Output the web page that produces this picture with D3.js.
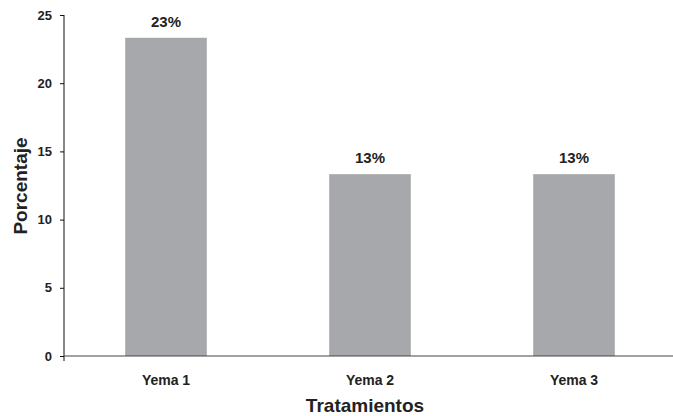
<!DOCTYPE html>
<html>
<head>
<meta charset="utf-8">
<script src="https://cdn.jsdelivr.net/npm/d3@7"></script>
<style>
  body { margin: 0; background: #fff; }
  text { font-family: "Liberation Sans", Arial, sans-serif; font-weight: bold; fill: #222; }
</style>
</head>
<body>
<svg id="chart"></svg>
<script>
const categories = ['Yema 1', 'Yema 2', 'Yema 3'];
const values = [23.33, 13.33, 13.33];
const barLabels = ['23%', '13%', '13%'];
const yTicks = [0, 5, 10, 15, 20, 25];

const width = 673;
const height = 416;

const svg = d3.select('#chart')
  .attr('width', width)
  .attr('height', height);

const x = d3.scaleBand().domain(categories).range([64, 676]).paddingInner(0.6).paddingOuter(0.3);
const y = d3.scaleLinear().domain([0, 25]).range([356, 15]);

// bars
svg.selectAll('rect.bar')
  .data(values)
  .join('rect')
  .attr('class', 'bar')
  .attr('x', (d, i) => x(categories[i]))
  .attr('y', d => y(d))
  .attr('width', x.bandwidth())
  .attr('height', d => y(0) - y(d))
  .attr('fill', '#a7a8ab');

// value labels
svg.selectAll('text.val')
  .data(values)
  .join('text')
  .attr('class', 'val')
  .attr('x', (d, i) => x(categories[i]) + x.bandwidth() / 2)
  .attr('y', d => y(d) - 11)
  .attr('text-anchor', 'middle')
  .style('font-size', '15px')
  .text((d, i) => barLabels[i]);

// y axis
const yAxis = svg.append('g')
  .attr('transform', 'translate(64,0)')
  .call(d3.axisLeft(y).tickValues(yTicks).tickSize(4).tickPadding(8));
yAxis.select('.domain').attr('d', `M0,${y(25)}V${y(0) + 5}`).attr('stroke', '#111');
yAxis.selectAll('.tick line').attr('stroke', '#111');
yAxis.selectAll('.tick text').style('font-size', '13px').attr('fill', '#222');

// x axis
const xAxis = svg.append('g')
  .attr('transform', `translate(0,${y(0)})`)
  .call(d3.axisBottom(x).tickSize(0).tickPadding(19));
xAxis.select('.domain').attr('d', `M64,0H${width}`).attr('stroke', '#444');
xAxis.selectAll('.tick text').style('font-size', '14px').attr('fill', '#222');

// axis titles
svg.append('text')
  .attr('x', x(categories[1]) + x.bandwidth() / 2 - 5)
  .attr('y', 412)
  .attr('text-anchor', 'middle')
  .style('font-size', '19px')
  .text('Tratamientos');

svg.append('text')
  .attr('transform', 'translate(27,186) rotate(-90)')
  .attr('text-anchor', 'middle')
  .style('font-size', '19px')
  .text('Porcentaje');
</script>
</body>
</html>
